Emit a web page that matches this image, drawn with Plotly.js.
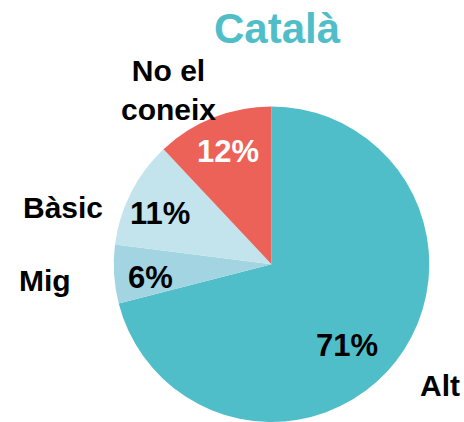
<!DOCTYPE html>
<html><head><meta charset="utf-8">
<script src="https://cdn.plot.ly/plotly-3.0.1.min.js"></script>
<style>html,body{margin:0;padding:0;background:#fff}</style>
</head><body>
<div id="chart" style="width:464px;height:422px"></div>
<script>
const categories = ['Alt', 'Mig', 'Bàsic', 'No el<br>coneix'];
const shares = [71, 6, 11, 12];
const sliceColors = ['#50bec9', '#a3d4e2', '#c3e4ec', '#ec6259'];
const pctColors = ['#000000', '#000000', '#000000', '#ffffff'];
const chartTitle = 'Català';

const labelPos = [[440, 385], [45, 280], [63, 207], [168, 90]];
const pctPos = [[347, 345], [150, 277], [160, 213], [228, 152]];
const W = 464, H = 422;
const FONT = 'Liberation Sans, Arial, sans-serif';

const trace = {
  type: 'pie',
  labels: categories,
  values: shares,
  sort: false,
  direction: 'clockwise',
  rotation: 0,
  marker: {colors: sliceColors, line: {width: 0}},
  textinfo: 'none',
  hoverinfo: 'none',
  showlegend: false,
  domain: {x: [113/464, 430/464], y: [0, 0.7476]}
};

const total = shares.reduce((a, b) => a + b, 0);
const annotations = [];
categories.forEach((c, i) => {
  annotations.push({
    text: '<b>' + c + '</b>',
    x: labelPos[i][0] / W, y: 1 - labelPos[i][1] / H,
    xref: 'paper', yref: 'paper', showarrow: false,
    xanchor: 'center', yanchor: 'middle',
    font: {family: FONT, size: 30, color: '#000'}
  });
  annotations.push({
    text: '<b>' + Math.round(shares[i] / total * 100) + '%</b>',
    x: pctPos[i][0] / W, y: 1 - pctPos[i][1] / H,
    xref: 'paper', yref: 'paper', showarrow: false,
    xanchor: 'center', yanchor: 'middle',
    font: {family: FONT, size: 31, color: pctColors[i]}
  });
});
annotations.push({
  text: '<b>' + chartTitle + '</b>',
  x: 277.5 / W, y: 1 - 28 / H, xref: 'paper', yref: 'paper', showarrow: false,
  xanchor: 'center', yanchor: 'middle',
  font: {family: FONT, size: 42, color: '#50bec9'}
});

Plotly.newPlot('chart', [trace], {
  width: W, height: H,
  margin: {l: 0, r: 0, t: 0, b: 0},
  paper_bgcolor: '#fff',
  annotations: annotations
}, {displayModeBar: false, staticPlot: true});
</script>
</body></html>
